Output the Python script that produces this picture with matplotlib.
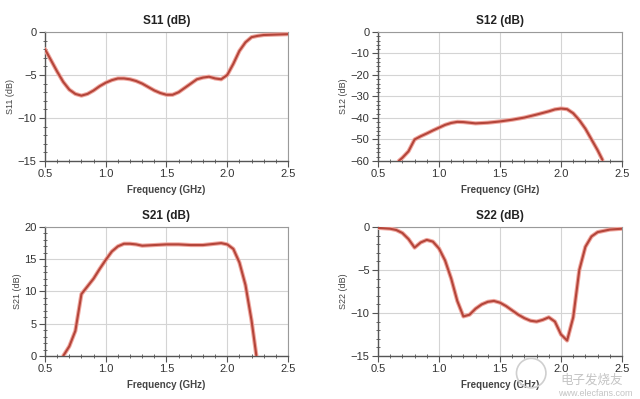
import numpy as np
import matplotlib
matplotlib.use('Agg')
import matplotlib.pyplot as plt
from matplotlib.ticker import MultipleLocator, AutoMinorLocator
from matplotlib.patches import Ellipse

plt.rcParams['font.family'] = ['Liberation Sans', 'DejaVu Sans']

# S11 (dB)
s11_f = [0.5, 0.55, 0.6, 0.65, 0.7, 0.75, 0.8, 0.85, 0.9, 0.95, 1.0, 1.05, 1.1, 1.15, 1.2, 1.25,
         1.3, 1.35, 1.4, 1.45, 1.5, 1.55, 1.6, 1.65, 1.7, 1.75, 1.8, 1.85, 1.9, 1.95, 2.0, 2.05,
         2.1, 2.15, 2.2, 2.25, 2.3, 2.4, 2.5]
s11_db = [-2.0, -3.3, -4.6, -5.8, -6.7, -7.2, -7.4, -7.2, -6.8, -6.3, -5.9, -5.6, -5.4, -5.4, -5.5,
          -5.7, -6.0, -6.4, -6.8, -7.1, -7.3, -7.3, -7.0, -6.5, -6.0, -5.5, -5.3, -5.2, -5.4, -5.5,
          -5.0, -3.7, -2.2, -1.2, -0.6, -0.45, -0.35, -0.3, -0.25]

# S12 (dB)
s12_f = [0.67, 0.7, 0.75, 0.8, 0.85, 0.9, 0.95, 1.0, 1.05, 1.1, 1.15, 1.2, 1.25, 1.3, 1.4, 1.5,
         1.6, 1.7, 1.8, 1.9, 1.95, 2.0, 2.05, 2.1, 2.15, 2.2, 2.25, 2.3, 2.34]
s12_db = [-60, -58.5, -55.5, -50, -48.5, -47.2, -45.8, -44.5, -43.2, -42.3, -41.8, -41.9, -42.2, -42.5,
          -42.2, -41.6, -40.8, -39.8, -38.4, -36.9, -36.0, -35.6, -35.9, -37.8, -41, -45, -50, -55, -59.5]

# S21 (dB)
s21_f = [0.65, 0.7, 0.75, 0.8, 0.85, 0.9, 0.95, 1.0, 1.05, 1.1, 1.15, 1.2, 1.25, 1.3, 1.4, 1.5,
         1.6, 1.7, 1.8, 1.9, 1.95, 2.0, 2.05, 2.1, 2.15, 2.2, 2.24]
s21_db = [0.0, 1.5, 3.9, 9.6, 10.8, 12.0, 13.5, 14.9, 16.2, 17.0, 17.4, 17.4, 17.3, 17.1, 17.2, 17.3,
          17.3, 17.2, 17.2, 17.4, 17.5, 17.3, 16.6, 14.5, 11.0, 5.5, 0.0]

# S22 (dB)
s22_f = [0.5, 0.55, 0.6, 0.65, 0.7, 0.75, 0.8, 0.85, 0.9, 0.95, 1.0, 1.05, 1.1, 1.15, 1.2, 1.25,
         1.3, 1.35, 1.4, 1.45, 1.5, 1.55, 1.6, 1.65, 1.7, 1.75, 1.8, 1.85, 1.9, 1.95, 2.0, 2.05,
         2.1, 2.15, 2.2, 2.25, 2.3, 2.4, 2.5]
s22_db = [-0.1, -0.15, -0.2, -0.35, -0.7, -1.4, -2.4, -1.8, -1.5, -1.7, -2.5, -3.9, -6.0, -8.6, -10.4,
          -10.2, -9.5, -9.0, -8.7, -8.6, -8.8, -9.2, -9.7, -10.2, -10.6, -10.9, -11.0, -10.8, -10.5,
          -11.0, -12.5, -13.2, -10.5, -5.0, -2.3, -1.1, -0.6, -0.3, -0.2]

panels = [
    ('S11', s11_f, s11_db, (-15, 0), 5, [0.0703, 0.5965, 0.3797, 0.3233]),
    ('S12', s12_f, s12_db, (-60, 0), 10, [0.5906, 0.5965, 0.3813, 0.3233]),
    ('S21', s21_f, s21_db, (0, 20), 5, [0.0703, 0.1078, 0.3797, 0.3233]),
    ('S22', s22_f, s22_db, (-15, 0), 5, [0.5906, 0.1078, 0.3813, 0.3233]),
]

fig = plt.figure(figsize=(6.4, 3.99), dpi=100)

for name, f, db, ylim, ystep, rect in panels:
    ax = fig.add_axes(rect)
    # soft halo + main line
    ax.plot(f, db, color='#f0a8a0', lw=3.0, solid_capstyle='round', zorder=3)
    ax.plot(f, db, color='#b4453a', lw=1.5, solid_capstyle='round', zorder=4)
    ax.set_xlim(0.5, 2.5)
    ax.set_ylim(*ylim)
    ax.xaxis.set_major_locator(MultipleLocator(0.5))
    ax.xaxis.set_minor_locator(MultipleLocator(0.1))
    ax.yaxis.set_major_locator(MultipleLocator(ystep))
    ax.yaxis.set_minor_locator(AutoMinorLocator())
    ax.xaxis.set_major_formatter(matplotlib.ticker.FormatStrFormatter('%.1f'))
    ax.grid(True, which='major', color='#d4d4d4', lw=0.8)
    ax.set_axisbelow(True)
    for side in ['top', 'right']:
        ax.spines[side].set_color('#9a9a9a')
        ax.spines[side].set_linewidth(0.8)
    for side in ['left', 'bottom']:
        ax.spines[side].set_color('#555555')
        ax.spines[side].set_linewidth(1.0)
    ax.tick_params(which='major', direction='out', length=4, width=0.8, colors='#555555',
                   labelsize=8, labelcolor='#333333', pad=2)
    ax.tick_params(which='minor', direction='inout', length=3, width=0.7, colors='#666666')
    ax.tick_params(top=False, right=False)
    ax.set_title(f'{name} (dB)', fontsize=8.5, fontweight='bold', color='#222222', pad=6)
    ax.set_xlabel('Frequency (GHz)', fontsize=7, fontweight='bold', color='#444444', labelpad=4)
    ax.set_ylabel(f'{name} (dB)', fontsize=6.5, color='#444444', labelpad=2)

# watermark
fig.patches.append(Ellipse((0.83, 0.065), 0.046, 0.046 * 640 / 399, transform=fig.transFigure,
                           fill=False, ec='#cfcfcf', lw=1.2))
fig.text(0.925, 0.048, '电子发烧友', fontsize=9, color='#c4c4c4', style='italic',
         ha='center', va='center', family=['Noto Sans CJK SC', 'DejaVu Sans'])
fig.text(0.93, 0.013, 'www.elecfans.com', fontsize=6.5, color='#c4c4c4',
         ha='center', va='center')

fig.savefig('out.png', dpi=100, facecolor='white')
